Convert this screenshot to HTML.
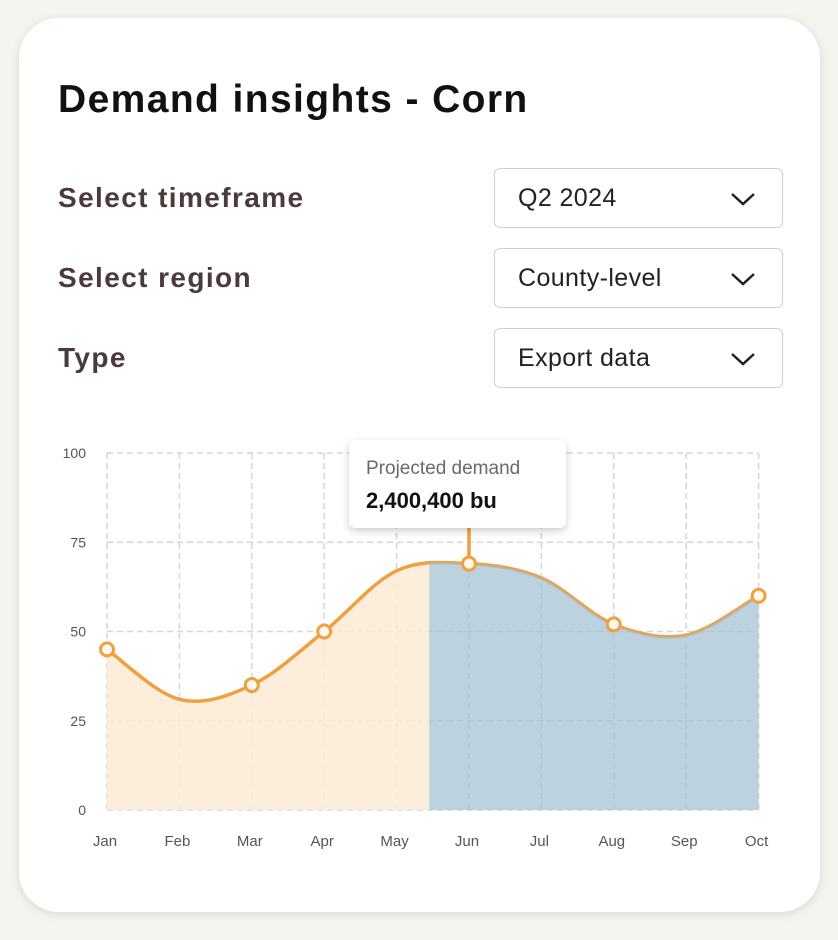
<!DOCTYPE html>
<html><head><meta charset="utf-8"><style>
body{margin:0;width:838px;height:940px;background:#f5f4ee;font-family:"Liberation Sans",sans-serif;position:relative;overflow:hidden}
.card{position:absolute;left:19px;top:18px;width:801px;height:894px;background:#fff;border-radius:40px;box-shadow:0 2px 10px rgba(0,0,0,0.12)}
h1{position:absolute;left:58px;top:78px;margin:0;font-size:39px;font-weight:bold;color:#111;letter-spacing:1.4px}
.lbl{position:absolute;left:58px;font-size:28px;font-weight:bold;color:#4a3a3a;letter-spacing:1.4px}
.dd{position:absolute;left:494px;width:289px;height:60px;border:1.5px solid #c9d3dc;border-radius:6px;box-sizing:border-box;font-size:25px;color:#222;padding-left:23px;line-height:58px;letter-spacing:0.4px}
.dd svg{position:absolute;right:26px;top:22px}
</style></head><body>
<div class="card"></div>
<h1>Demand insights - Corn</h1>
<div class="lbl" style="top:182px">Select timeframe</div>
<div class="lbl" style="top:262px">Select region</div>
<div class="lbl" style="top:342px">Type</div>
<div class="dd" style="top:168px">Q2 2024<svg width="26" height="16"><path d="M2 3 L13 13 L24 3" fill="none" stroke="#222" stroke-width="2.5"/></svg></div>
<div class="dd" style="top:248px">County-level<svg width="26" height="16"><path d="M2 3 L13 13 L24 3" fill="none" stroke="#222" stroke-width="2.5"/></svg></div>
<div class="dd" style="top:328px">Export data<svg width="26" height="16"><path d="M2 3 L13 13 L24 3" fill="none" stroke="#222" stroke-width="2.5"/></svg></div>
<svg id="chart" width="838" height="940" style="position:absolute;left:0;top:0"></svg>
<script>
const months=["Jan","Feb","Mar","Apr","May","Jun","Jul","Aug","Sep","Oct"];
const values=[45,31,35,50,67,69,65,52,49,60];
const markerIdx=[0,2,3,5,7,9];
const yTicks=[0,25,50,75,100];
const splitAt=4.45;
const tooltipIdx=5;
const tooltipTitle="Projected demand";
const tooltipValue="2,400,400 bu";
const NS="http://www.w3.org/2000/svg";
const svg=document.getElementById('chart');
const x0=107,dx=72.4,yB=810,yT=453;
const X=i=>x0+i*dx, Y=v=>yB-(v/100)*(yB-yT);
function el(t,a,p){const e=document.createElementNS(NS,t);for(const k in a)e.setAttribute(k,a[k]);(p||svg).appendChild(e);return e;}
const xr=X(months.length-1);
yTicks.forEach(t=>{const l=el('line',{x1:X(0),x2:xr,y1:Y(t),y2:Y(t),stroke:'#cfd6df','stroke-width':1.5,'stroke-dasharray':'6 4'});


const tx=el('text',{x:86,y:Y(t)+5,'text-anchor':'end','font-size':14,fill:'#555'});tx.textContent=t;

});
months.forEach((m,i)=>{const l=el('line',{x1:X(i),x2:X(i),y1:Y(100),y2:Y(0),stroke:'#cfd6df','stroke-width':1.5,'stroke-dasharray':'6 4'});


const tx=el('text',{x:X(i)-2,y:846,'text-anchor':'middle','font-size':15,fill:'#555'});tx.textContent=m;

});
const P=values.map((v,i)=>[X(i),Y(v)]);
let d=`M${P[0][0]},${P[0][1]}`;
for(let i=0;i<P.length-1;i++){const p0=P[Math.max(0,i-1)],p1=P[i],p2=P[i+1],p3=P[Math.min(P.length-1,i+2)];
d+=` C${p1[0]+(p2[0]-p0[0])/6},${p1[1]+(p2[1]-p0[1])/6} ${p2[0]-(p3[0]-p1[0])/6},${p2[1]-(p3[1]-p1[1])/6} ${p2[0]},${p2[1]}`;}
const area=d+` L${xr},${yB} L${X(0)},${yB} Z`;
const defs=el('defs',{});
const c1=el('clipPath',{id:'cA'},defs);el('rect',{x:0,y:0,width:X(splitAt),height:940},c1);
const c2=el('clipPath',{id:'cB'},defs);el('rect',{x:X(splitAt),y:0,width:838,height:940},c2);
const a1=el('path',{d:area,fill:'#fcebd5','fill-opacity':0.85,'clip-path':'url(#cA)'});


const ln=el('path',{d:d,fill:'none',stroke:'#f0a040','stroke-width':3.5});


const a2=el('path',{d:area,fill:'#9fbfd2','fill-opacity':0.7,'clip-path':'url(#cB)'});


const cn=el('line',{x1:X(tooltipIdx),x2:X(tooltipIdx),y1:525,y2:Y(values[tooltipIdx]),stroke:'#f0a040','stroke-width':3.5});


markerIdx.forEach(i=>{const c=el('circle',{cx:X(i),cy:Y(values[i]),r:6.5,fill:'#fff8f0',stroke:'#f0a040','stroke-width':3});

});
const f=el('filter',{id:'sh',x:'-20%',y:'-20%',width:'140%',height:'160%'},defs);
el('feDropShadow',{dx:0,dy:3,stdDeviation:4,'flood-opacity':0.2},f);
const tb=el('rect',{x:349,y:440,width:217,height:88,rx:7,fill:'#fff',filter:'url(#sh)'});


const t1=el('text',{x:366,y:474,'font-size':19,fill:'#6a6a6a'});t1.textContent=tooltipTitle;


const t2=el('text',{x:366,y:508,'font-size':22,'font-weight':'bold',fill:'#111'});t2.textContent=tooltipValue;


</script>
</body></html>
